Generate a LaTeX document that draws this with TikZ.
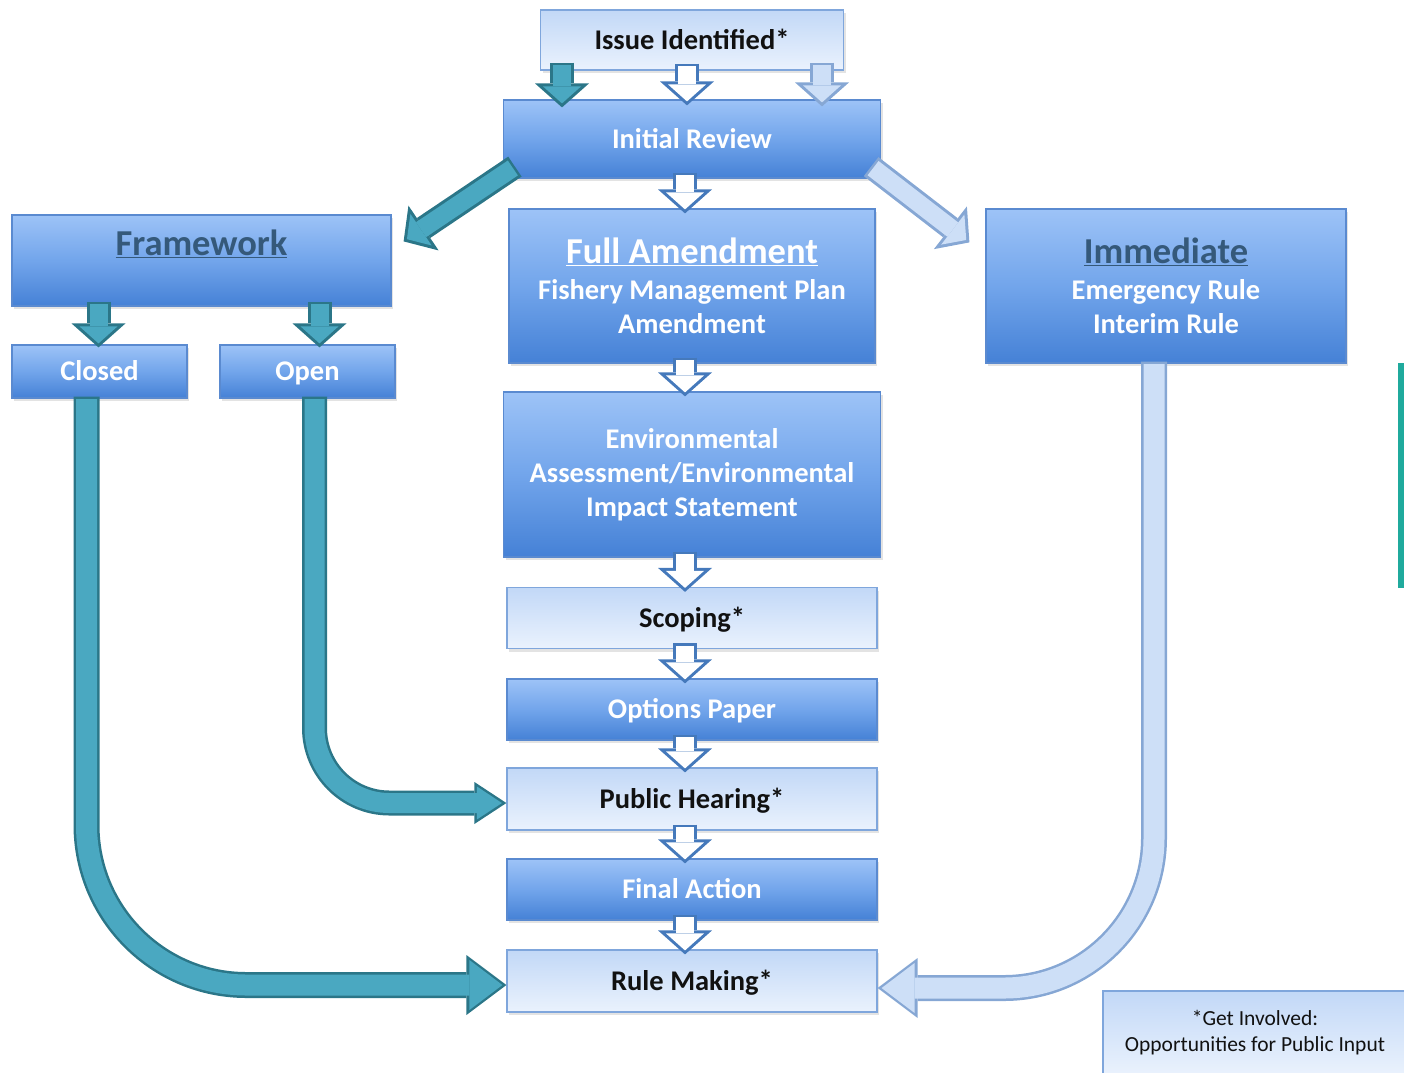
\documentclass[tikz,border=0pt]{standalone}
\usepackage{fontspec}
\setmainfont{Carlito}
\usepackage{xcolor}
\usepackage{tikz}
\usetikzlibrary{arrows.meta,calc,shadows}

\definecolor{dtop}{HTML}{9DC3F7}
\definecolor{dmid}{HTML}{72A5EB}
\definecolor{dbot}{HTML}{4581D6}
\definecolor{dline}{HTML}{5A8AD0}
\definecolor{ltop}{HTML}{C2D8F7}
\definecolor{lbot}{HTML}{EAF2FD}
\definecolor{lline}{HTML}{7FA6DC}
\definecolor{ltext}{HTML}{111111}
\definecolor{ttext}{HTML}{35597A}
\definecolor{harr}{HTML}{4579BB}
\definecolor{tfill}{HTML}{4AA8C1}
\definecolor{tline}{HTML}{2B7688}
\definecolor{lafill}{HTML}{CDDFF7}
\definecolor{laline}{HTML}{86A7D4}
\definecolor{tealbar}{HTML}{20AA9D}

\newcommand{\boxfont}{\bfseries\fontsize{28.5}{34}\selectfont}
\newcommand{\headfont}{\bfseries\fontsize{36.5}{40}\selectfont}
\newcommand{\notefont}{\fontsize{21.5}{26}\selectfont}

\begin{document}
\begin{tikzpicture}[x=1pt, y=-1pt,
    box/.style={minimum width=370pt, minimum height=61pt, inner sep=0pt, align=center, line width=1.2pt,
        drop shadow={opacity=0.22, shadow xshift=2pt, shadow yshift=-3pt}},
    dark/.style={box, draw=dline, top color=dtop, bottom color=dbot, middle color=dmid, text=white, font=\boxfont},
    light/.style={box, draw=lline, top color=ltop, bottom color=lbot, text=ltext, font=\boxfont},
    oneline/.style={text height=18pt, text depth=0pt},
    smallarr/.style 2 args={draw=#1, line width=18pt, shorten <=2.5pt, shorten >=4pt,
        -{Triangle[length=17pt, width=38pt, line width=0pt]},
        preaction={draw=#2, line width=24pt, shorten <=0pt, shorten >=0pt,
            -{Triangle[length=24pt, width=54pt, line width=0pt]}}},
    hollow/.style={smallarr={white}{harr}},
    midarr/.style 2 args={draw=#1, line width=20pt, shorten <=2.5pt, shorten >=4.5pt,
        -{Triangle[length=25pt, width=33pt, line width=0pt]},
        preaction={draw=#2, line width=25pt, shorten <=0pt, shorten >=0pt,
            -{Triangle[length=32pt, width=42pt, line width=0pt]}}},
    bigarr/.style 2 args={draw=#1, line width=21pt, shorten <=2.5pt, shorten >=4pt,
        -{Triangle[length=33pt, width=50pt, line width=0pt]},
        preaction={draw=#2, line width=26pt, shorten <=0pt, shorten >=0pt,
            -{Triangle[length=40pt, width=60pt, line width=0pt]}}}]

    \useasboundingbox (0,0) rectangle (1404,1072);

    % Top
    \node[light, oneline, minimum width=303pt, minimum height=60pt] (issue) at (692,40) {Issue Identified*};
    \node[dark, oneline, minimum width=377pt, minimum height=78pt] (init) at (692,139) {Initial Review};

    % Framework branch
    \node[dark, minimum width=379pt, minimum height=91pt, font=\headfont, text=ttext,
        text height=24pt, text depth=34pt] (frame) at (201.5,260.5) {\underline{Framework}};
    \node[dark, oneline, minimum width=175pt, minimum height=53pt] (closed) at (99.5,371.5) {Closed};
    \node[dark, oneline, minimum width=175pt, minimum height=53pt] (open) at (307.5,371.5) {Open};

    % Full amendment
    \node[dark, minimum width=366pt, minimum height=154pt] (full) at (692,286)
        {{\headfont\underline{Full Amendment}}\\[2.5pt]Fishery Management Plan\\Amendment};
    \node[dark, minimum width=377pt, minimum height=165pt] (env) at (692,474.5)
        {Environmental\\Assessment/Environmental\\Impact Statement};
    \node[light, oneline] (scop) at (692,618) {Scoping*};
    \node[dark, oneline] (opts) at (692,709.5) {Options Paper};
    \node[light, oneline, minimum height=62pt] (pubh) at (692,799) {Public Hearing*};
    \node[dark, oneline] (final) at (692,889.5) {Final Action};
    \node[light, oneline, minimum height=62pt] (rule) at (692,981) {Rule Making*};

    % Immediate
    \node[dark, minimum width=360pt, minimum height=154pt] (immed) at (1166,286)
        {{\headfont\color{ttext}\underline{Immediate}}\\[2.5pt]Emergency Rule\\Interim Rule};

    % Note
    \node[light, font=\notefont, minimum width=304pt, minimum height=84pt] (note) at (1255,1033)
        {*Get Involved:\\Opportunities for Public Input};

    \fill[tealbar] (1398,363) rectangle (1404,588);

    % Arrows
    \draw[smallarr={tfill}{tline}] ([xshift=-130pt,yshift=8pt]issue.south) -- ([xshift=-130pt,yshift=-8pt]init.north);
    \draw[hollow] ([xshift=-5pt,yshift=7pt]issue.south) -- ([xshift=-5pt,yshift=-6pt]init.north);
    \draw[smallarr={lafill}{laline}] ([xshift=130pt,yshift=8pt]issue.south) -- ([xshift=130pt,yshift=-7pt]init.north);
    \draw[smallarr={tfill}{tline}] ([xshift=12pt,yshift=12pt]init.south west) -- ([xshift=12pt,yshift=-27pt]frame.north east);
    \draw[smallarr={lafill}{laline}] ([xshift=-10pt,yshift=12pt]init.south east) -- ([xshift=-16pt,yshift=-34pt]immed.north west);
    \draw[smallarr={tfill}{tline}] ($(closed.north |- frame.south)+(-1,-5)$) -- ($(closed.north)+(-1,3)$);
    \draw[smallarr={tfill}{tline}] ($(open.north |- frame.south)+(12,-5)$) -- ($(open.north)+(12,3)$);
    \draw[hollow] ([xshift=-7pt,yshift=6pt]init.south) -- ([xshift=-7pt,yshift=-5pt]full.north);
    \draw[hollow] ([xshift=-7pt,yshift=6pt]full.south) -- ([xshift=-7pt,yshift=-5pt]env.north);
    \draw[hollow] ([xshift=-7pt,yshift=6pt]env.south) -- ([xshift=-7pt,yshift=-5pt]scop.north);
    \draw[hollow] ([xshift=-7pt,yshift=6pt]scop.south) -- ([xshift=-7pt,yshift=-5pt]opts.north);
    \draw[hollow] ([xshift=-7pt,yshift=6pt]opts.south) -- ([xshift=-7pt,yshift=-5pt]pubh.north);
    \draw[hollow] ([xshift=-7pt,yshift=6pt]pubh.south) -- ([xshift=-7pt,yshift=-5pt]final.north);
    \draw[hollow] ([xshift=-7pt,yshift=6pt]final.south) -- ([xshift=-7pt,yshift=-5pt]rule.north);
    \draw[bigarr={tfill}{tline}, rounded corners=160pt] ([xshift=-13pt,yshift=2pt]closed.south) |- ([yshift=-4pt]rule.west);
    \draw[midarr={tfill}{tline}, rounded corners=75pt] ([xshift=7pt,yshift=2pt]open.south) |- ([yshift=-4pt]pubh.west);
    \draw[bigarr={lafill}{laline}, rounded corners=150pt] ([xshift=-12pt,yshift=2pt]immed.south) |- ([yshift=-7pt]rule.east);
\end{tikzpicture}
\end{document}
